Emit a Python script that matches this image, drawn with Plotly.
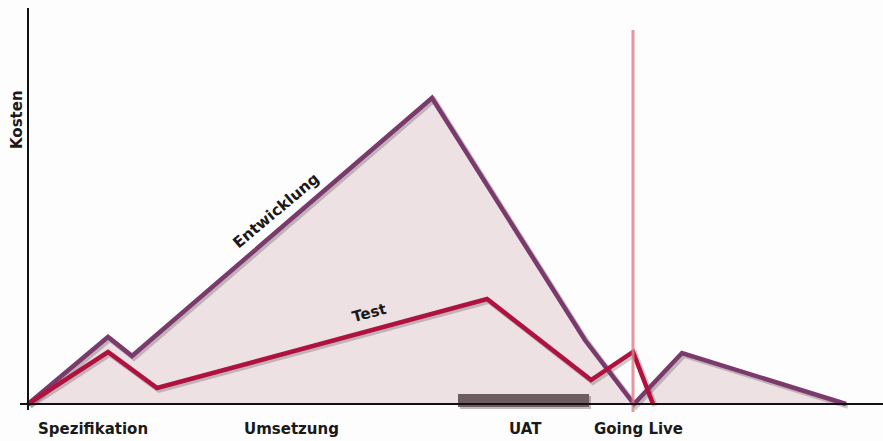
import plotly.graph_objects as go

# Data (time units on x, cost units on y)
dev_x = [0, 80, 104, 404, 557, 606, 654, 818]
dev_y = [0, 67, 48, 306, 64, 0, 51, 0]
test_x = [0, 80, 129, 459, 563, 605, 625]
test_y = [0, 52, 16, 105, 24, 52, 0]
go_live_x = 605
go_live_top = 374
uat_start, uat_end = 430, 561
phase_labels = ["Spezifikation", "Umsetzung", "UAT", "Going Live"]
phase_pos = [64.5, 263.5, 497.5, 610]

FONT = "DejaVu Sans, Verdana, sans-serif"
DEV_C = "#7a3a6c"
TEST_C = "#b0123f"

fig = go.Figure()

# fill under development curve
fig.add_trace(go.Scatter(x=dev_x, y=dev_y, mode="lines", line=dict(width=0),
                         fill="tozeroy", fillcolor="#ede1e4", hoverinfo="skip"))

# UAT bar
fig.add_shape(type="rect", x0=uat_start + 2, x1=uat_end + 2, y0=-5, y1=8,
              fillcolor="rgba(0,0,0,0.25)", line_width=0)
fig.add_shape(type="rect", x0=uat_start, x1=uat_end, y0=-3, y1=10,
              fillcolor="#6e5c62", line_width=0)

# shadows
for xs, ys in [(dev_x, dev_y), (test_x, test_y)]:
    fig.add_trace(go.Scatter(x=[v + 2 for v in xs], y=[v - 2 for v in ys], mode="lines",
                             line=dict(color="rgba(60,40,50,0.25)", width=5.5),
                             hoverinfo="skip"))

fig.add_trace(go.Scatter(x=dev_x, y=dev_y, mode="lines",
                         line=dict(color=DEV_C, width=4.5), name="Entwicklung"))
fig.add_trace(go.Scatter(x=test_x, y=test_y, mode="lines",
                         line=dict(color=TEST_C, width=4.5), name="Test"))

# going live vertical line
fig.add_shape(type="line", x0=go_live_x, x1=go_live_x, y0=-8, y1=go_live_top,
              line=dict(color="rgba(222,125,132,0.8)", width=3))

# axes
fig.add_shape(type="line", x0=-8, x1=860, y0=0, y1=0, line=dict(color="#111", width=2))
fig.add_shape(type="line", x0=0, x1=0, y0=-6, y1=396, line=dict(color="#111", width=2))

ann = []
for t, p in zip(phase_labels, phase_pos):
    ann.append(dict(x=p, y=-25, text="<b>" + t + "</b>", showarrow=False,
                    font=dict(family=FONT, size=15, color="#1a1a1a")))
ann.append(dict(x=-11, y=284, text="<b>Kosten</b>", textangle=-90, showarrow=False,
                font=dict(family=FONT, size=15, color="#1a1a1a")))
ann.append(dict(x=248, y=193, text="<b>Entwicklung</b>", textangle=-40, showarrow=False,
                font=dict(family=FONT, size=15.5, color="#1a1a1a")))
ann.append(dict(x=341, y=91, text="<b>Test</b>", textangle=-15, showarrow=False,
                font=dict(family=FONT, size=15, color="#1a1a1a")))

fig.update_layout(
    width=883, height=441, margin=dict(l=0, r=0, t=0, b=0),
    paper_bgcolor="#fdfdfd", plot_bgcolor="#fdfdfd", showlegend=False,
    xaxis=dict(range=[-28, 855], visible=False, fixedrange=True),
    yaxis=dict(range=[-37, 404], visible=False, fixedrange=True),
    annotations=ann,
)

fig.write_html("out.html", config={"displayModeBar": False},
               post_script="document.body.style.margin='0';document.body.style.overflow='hidden';")
